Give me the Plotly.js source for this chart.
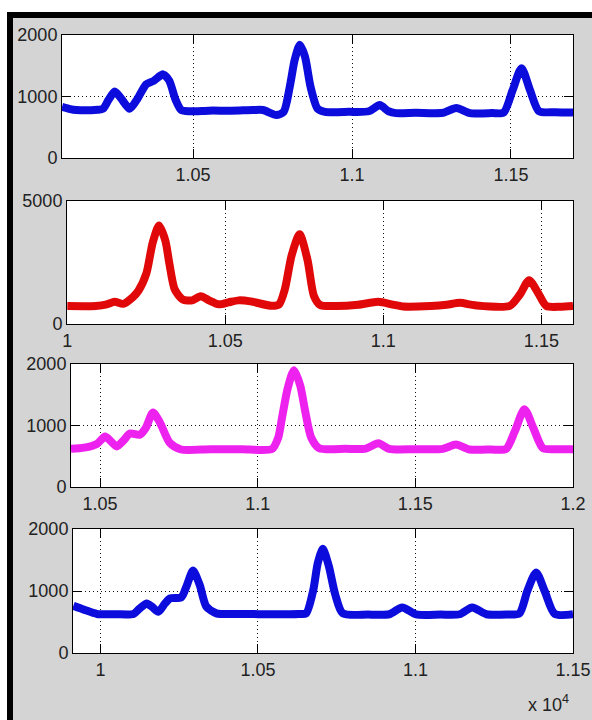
<!DOCTYPE html>
<html>
<head>
<meta charset="utf-8">
<script src="https://cdn.plot.ly/plotly-3.0.1.min.js"></script>
<style>html,body{margin:0;padding:0;background:#fff;}#chart{width:592px;height:720px;}</style>
</head>
<body>
<div id="chart"></div>
<script>
// ---- data (x in units of 10^4) ----
const x1 = [1.0088,1.0110,1.0133,1.0200,1.0217,1.0235,1.0254,1.0275,1.0301,1.0325,1.0353,1.0375,1.0406,1.0425,1.0445,1.0463,1.0490,1.0550,1.0620,1.0689,1.0720,1.0762,1.0785,1.0804,1.0820,1.0836,1.0852,1.0870,1.0892,1.0915,1.0990,1.1053,1.1087,1.1115,1.1138,1.1200,1.1286,1.1328,1.1371,1.1440,1.1477,1.1505,1.1533,1.1560,1.1588,1.1640,1.1695];
const y1 = [830,800,780,785,800,950,1080,960,800,960,1200,1250,1360,1260,950,780,760,770,770,780,780,700,750,1150,1600,1840,1650,1150,800,750,750,760,860,760,730,735,735,815,730,730,740,1100,1460,1100,760,745,740];

const x2 = [1.0000,1.0090,1.0125,1.0150,1.0177,1.0208,1.0225,1.0250,1.0270,1.0290,1.0310,1.0323,1.0340,1.0365,1.0395,1.0422,1.0450,1.0479,1.0510,1.0542,1.0580,1.0646,1.0670,1.0688,1.0710,1.0735,1.0760,1.0780,1.0800,1.0850,1.0920,1.0984,1.1030,1.1063,1.1150,1.1200,1.1242,1.1290,1.1400,1.1432,1.1461,1.1490,1.1516,1.1560,1.1600];
const y2 = [730,735,800,900,820,1100,1350,2050,3300,4000,3400,2450,1400,1000,960,1130,950,800,880,960,920,740,800,1400,2800,3650,2600,1150,770,730,780,900,790,710,730,780,860,760,740,1200,1780,1250,730,700,730];

const x3 = [1.0408,1.0450,1.0490,1.0516,1.0535,1.0553,1.0575,1.0595,1.0626,1.0645,1.0668,1.0690,1.0721,1.0757,1.0850,1.0950,1.1046,1.1065,1.1078,1.1095,1.1115,1.1135,1.1150,1.1170,1.1195,1.1280,1.1343,1.1383,1.1417,1.1500,1.1587,1.1629,1.1672,1.1740,1.1788,1.1815,1.1846,1.1875,1.1905,1.1950,1.2000];
const y3 = [620,640,700,820,740,660,760,870,850,960,1210,1050,720,610,615,615,620,800,1150,1600,1900,1650,1250,800,630,620,625,710,620,615,620,690,610,610,620,900,1265,950,630,615,615];

const x4 = [0.9914,0.9947,0.9989,1.0050,1.0105,1.0125,1.0147,1.0165,1.0184,1.0205,1.0221,1.0257,1.0275,1.0294,1.0315,1.0336,1.0368,1.0450,1.0550,1.0630,1.0653,1.0675,1.0690,1.0706,1.0725,1.0745,1.0769,1.0850,1.0917,1.0958,1.1002,1.1080,1.1140,1.1180,1.1225,1.1290,1.1330,1.1355,1.1383,1.1410,1.1442,1.1500];
const y4 = [760,700,630,625,630,720,800,740,665,800,880,900,1100,1330,1100,750,640,630,625,630,640,1000,1450,1680,1400,950,640,620,625,735,622,620,625,735,625,620,640,1000,1300,1000,630,625];

const xticks1 = [1.05,1.1,1.15], xtext1 = ['1.05','1.1','1.15'];
const xticks2 = [1,1.05,1.1,1.15], xtext2 = ['1','1.05','1.1','1.15'];
const xticks3 = [1.05,1.1,1.15,1.2], xtext3 = ['1.05','1.1','1.15','1.2'];
const xticks4 = [1,1.05,1.1,1.15], xtext4 = ['1','1.05','1.1','1.15'];
const yticks1 = [0,1000,2000], yticks2 = [0,5000], yticks3 = [0,1000,2000], yticks4 = [0,1000,2000];

// ---- layout helpers ----
const W = 592, H = 720;
const px = v => v / W, py = v => 1 - v / H;
const font = {family: 'Liberation Sans, Arial, sans-serif', size: 18, color: '#222'};
const gridStyle = {showgrid: true, gridcolor: '#111', griddash: '1px,3px', gridwidth: 1};

function xa(l, r, range, tv, tt, anchor) {
  return Object.assign({domain: [px(l), px(r)], range: range, anchor: anchor, tickmode: 'array', tickvals: tv, ticktext: tt,
    ticks: 'inside', ticklen: 9, tickcolor: '#000', showline: true, linecolor: '#000', linewidth: 1, mirror: 'ticks',
    zeroline: false, tickfont: font, fixedrange: true}, gridStyle);
}
function ya(t, b, range, tv, anchor) {
  return Object.assign({domain: [py(b), py(t)], range: range, anchor: anchor, tickmode: 'array', tickvals: tv, ticktext: tv.map(String),
    ticks: 'inside', ticklen: 9, tickcolor: '#000', showline: true, linecolor: '#000', linewidth: 1, mirror: 'ticks',
    zeroline: false, tickfont: font, fixedrange: true}, gridStyle);
}
function tr(x, y, color, xa, ya) {
  return {x: x, y: y, xaxis: xa, yaxis: ya, type: 'scatter', mode: 'lines',
    line: {color: color, width: 8, shape: 'spline', smoothing: 0.7}, hoverinfo: 'skip', cliponaxis: true};
}

const data = [
  tr(x1, y1, '#0c0cdc', 'x', 'y'),
  tr(x2, y2, '#e00808', 'x2', 'y2'),
  tr(x3, y3, '#ee22ee', 'x3', 'y3'),
  tr(x4, y4, '#0c0cdc', 'x4', 'y4')
];

const layout = {
  width: W, height: H, margin: {l: 0, r: 0, t: 0, b: 0},
  paper_bgcolor: '#d4d4d4', plot_bgcolor: '#ffffff', showlegend: false,
  xaxis:  xa(62, 573, [1.0088, 1.1695], xticks1, xtext1, 'y'),
  yaxis:  ya(35, 158, [0, 2000], yticks1, 'x'),
  xaxis2: xa(67, 573, [0.9999, 1.1600], xticks2, xtext2, 'y2'),
  yaxis2: ya(201, 324, [0, 5000], yticks2, 'x2'),
  xaxis3: xa(71, 573, [1.0408, 1.2000], xticks3, xtext3, 'y3'),
  yaxis3: ya(364, 487, [0, 2000], yticks3, 'x3'),
  xaxis4: xa(73, 573, [0.9913, 1.1500], xticks4, xtext4, 'y4'),
  yaxis4: ya(529, 653, [0, 2000], yticks4, 'x4'),
  shapes: [
    {type: 'rect', xref: 'paper', yref: 'paper', x0: 0, x1: 1, y0: py(12), y1: 1, fillcolor: '#fff', line: {width: 0}, layer: 'below'},
    {type: 'rect', xref: 'paper', yref: 'paper', x0: 0, x1: px(7), y0: 0, y1: 1, fillcolor: '#fff', line: {width: 0}, layer: 'below'},
    {type: 'rect', xref: 'paper', yref: 'paper', x0: px(7), x1: 1, y0: py(18), y1: py(12), fillcolor: '#000', line: {width: 0}, layer: 'below'},
    {type: 'rect', xref: 'paper', yref: 'paper', x0: px(7), x1: px(13), y0: 0, y1: py(12), fillcolor: '#000', line: {width: 0}, layer: 'below'}
  ],
  annotations: [
    {xref: 'paper', yref: 'paper', x: px(526), y: py(717), xanchor: 'left', yanchor: 'bottom', showarrow: false,
     text: 'x 10<sup>4</sup>', font: {family: 'Liberation Sans, Arial, sans-serif', size: 18, color: '#222'}}
  ]
};

Plotly.newPlot('chart', data, layout, {staticPlot: true, displayModeBar: false});
</script>
</body>
</html>
